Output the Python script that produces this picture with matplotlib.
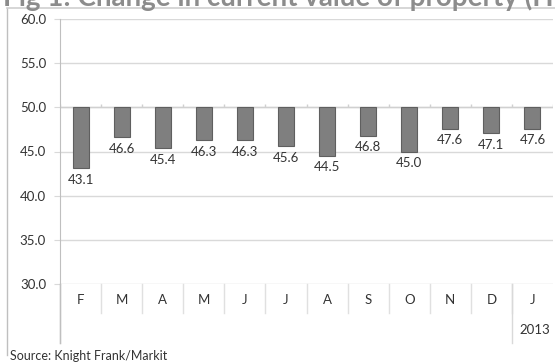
import matplotlib
matplotlib.use("Agg")
import matplotlib.pyplot as plt
import matplotlib.lines as mlines
import numpy as np

plt.rcParams['font.family'] = ['Lato', 'DejaVu Sans']

months = ["F", "M", "A", "M", "J", "J", "A", "S", "O", "N", "D", "J"]
values = [43.1, 46.6, 45.4, 46.3, 46.3, 45.6, 44.5, 46.8, 45.0, 47.6, 47.1, 47.6]
year_groups = [("", 0, 10), ("2013", 11, 11)]
base = 50.0
yticks = [30.0, 35.0, 40.0, 45.0, 50.0, 55.0, 60.0]

W, H = 555, 363
fig = plt.figure(figsize=(W / 100, H / 100), dpi=100)

# outer frame lines (left and top)
fig.add_artist(mlines.Line2D([7 / W, 7 / W], [1 - 8 / H, 1 - 355 / H], color="#bfbfbf", lw=1))
fig.add_artist(mlines.Line2D([7 / W, 1], [1 - 8 / H, 1 - 8 / H], color="#d0d0d0", lw=1.2))

# title, cut off at the top as in the source image
fig.text(3 / W, 1 - 6 / H, "Fig 1: Change in current value of property (HPI)", fontsize=20,
         fontweight="bold", color="#8c8c8c", va="baseline", ha="left")
fig.text(10 / W, 1 - 356 / H, "Source: Knight Frank/Markit", fontsize=9, color="#333333",
         va="center", ha="left")

ax = fig.add_axes([60 / W, 1 - 284 / H, 493 / W, 265 / H])
x = np.arange(len(months))
heights = [v - base for v in values]
ax.bar(x, heights, bottom=base, width=0.39, color="#7f7f7f", edgecolor="#5f5f5f", lw=0.8, zorder=3)

for xi, v in zip(x, values):
    ax.annotate(f"{v:.1f}", (xi, v), xytext=(0, -4), textcoords="offset points",
                ha="center", va="top", fontsize=9.5, color="#333333")

ax.set_xlim(-0.5, len(months) - 0.5)
ax.set_ylim(yticks[0], yticks[-1])
ax.set_yticks(yticks)
ax.set_yticklabels([f"{t:.1f}" for t in yticks], fontsize=9.5, color="#333333")
ax.tick_params(axis="y", length=4, color="#d9d9d9", pad=6)
ax.set_xticks([])
ax.grid(axis="y", color="#d9d9d9", lw=1)
ax.set_axisbelow(True)
for s in ["top", "right", "bottom"]:
    ax.spines[s].set_visible(False)
ax.spines["left"].set_color("#bfbfbf")

# category axis crossing at 50 with tick marks
ax.axhline(base, color="#d0d0d0", lw=1, zorder=2)
bounds = np.arange(len(months) + 1) - 0.5
ax.vlines(bounds, base, base + 0.4, color="#d0d0d0", lw=1, zorder=2)

# category labels below the plot
tr = ax.get_xaxis_transform()
for xi, m in zip(x, months):
    ax.text(xi, -0.06, m, transform=tr, ha="center", va="center", fontsize=9.5, color="#333333")
for b in bounds[1:-1]:
    ax.add_line(mlines.Line2D([b, b], [0, -0.109], transform=tr, color="#e0e0e0", lw=1, clip_on=False))
for label, i0, i1 in year_groups:
    ax.add_line(mlines.Line2D([i0 - 0.5, i0 - 0.5], [0, -0.2226], transform=tr, color="#d9d9d9",
                              lw=1, clip_on=False))
    ax.text((i0 + i1) / 2 + 0.05, -0.174, label, transform=tr, ha="center", va="center",
            fontsize=9.5, color="#333333")
ax.spines["left"].set_bounds(30, 60)
ax.add_line(mlines.Line2D([-0.5, -0.5], [0, -0.2226], transform=tr, color="#bfbfbf", lw=1, clip_on=False))

fig.savefig("out.png", dpi=100)
